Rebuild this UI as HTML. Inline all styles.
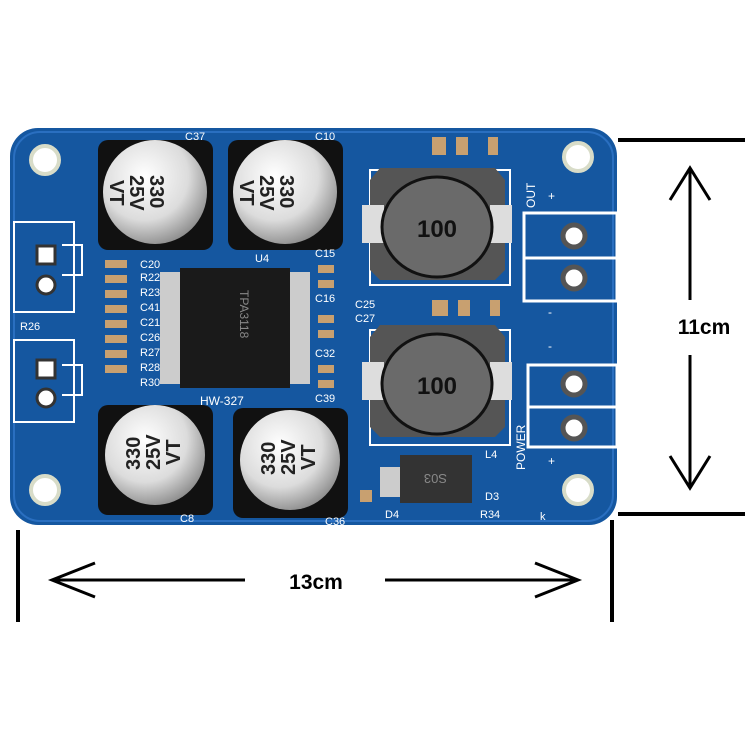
<!DOCTYPE html>
<html><head><style>
body{margin:0;background:#fff;width:750px;height:750px;overflow:hidden}
svg{display:block}
text{font-family:"Liberation Sans",sans-serif}
</style></head><body>
<svg width="750" height="750" viewBox="0 0 750 750">
<defs>
<radialGradient id="cap" cx="0.4" cy="0.35" r="0.7">
<stop offset="0" stop-color="#ffffff"/><stop offset="0.6" stop-color="#dcdcdc"/><stop offset="1" stop-color="#888"/>
</radialGradient>
</defs>
<!-- board -->
<rect x="10" y="128" width="607" height="397" rx="28" fill="#1557a0"/>
<rect x="14" y="132" width="599" height="389" rx="26" fill="none" stroke="#2a6fc0" stroke-width="2"/>
<!-- mounting holes -->
<g fill="#fff" stroke="#d8dcc8" stroke-width="4">
<circle cx="45" cy="160" r="14"/><circle cx="578" cy="157" r="14"/>
<circle cx="45" cy="490" r="14"/><circle cx="578" cy="490" r="14"/>
</g>
<!-- left connectors -->
<g fill="none" stroke="#fff" stroke-width="2">
<rect x="14" y="222" width="60" height="90"/><rect x="14" y="340" width="60" height="82"/>
<path d="M62 245 h20 v30 h-20"/><path d="M62 365 h20 v30 h-20"/>
</g>
<g fill="#fff" stroke="#333" stroke-width="3">
<rect x="37" y="246" width="18" height="18"/><circle cx="46" cy="285" r="9"/>
<rect x="37" y="360" width="18" height="18"/><circle cx="46" cy="398" r="9"/>
</g>
<!-- capacitors top -->
<g>
<rect x="98" y="140" width="115" height="110" rx="10" fill="#111"/>
<circle cx="155" cy="192" r="52" fill="url(#cap)"/>
<rect x="228" y="140" width="115" height="110" rx="10" fill="#111"/>
<circle cx="285" cy="192" r="52" fill="url(#cap)"/>
<rect x="98" y="405" width="115" height="110" rx="10" fill="#111"/>
<circle cx="155" cy="455" r="50" fill="url(#cap)"/>
<rect x="233" y="408" width="115" height="110" rx="10" fill="#111"/>
<circle cx="290" cy="460" r="50" fill="url(#cap)"/>
</g>
<g font-size="20" fill="#222" font-weight="bold">
<text x="150" y="175" transform="rotate(90 150 175)">330</text>
<text x="130" y="175" transform="rotate(90 130 175)">25V</text>
<text x="110" y="180" transform="rotate(90 110 180)">VT</text>
<text x="280" y="175" transform="rotate(90 280 175)">330</text>
<text x="260" y="175" transform="rotate(90 260 175)">25V</text>
<text x="240" y="180" transform="rotate(90 240 180)">VT</text>
<text x="140" y="470" transform="rotate(-90 140 470)">330</text>
<text x="160" y="470" transform="rotate(-90 160 470)">25V</text>
<text x="180" y="465" transform="rotate(-90 180 465)">VT</text>
<text x="275" y="475" transform="rotate(-90 275 475)">330</text>
<text x="295" y="475" transform="rotate(-90 295 475)">25V</text>
<text x="315" y="470" transform="rotate(-90 315 470)">VT</text>
</g>
<!-- chip -->
<g fill="#ccc">
<rect x="160" y="272" width="150" height="112"/>
</g>
<rect x="180" y="268" width="110" height="120" fill="#1a1a1a"/>
<text x="240" y="290" fill="#888" font-size="12" transform="rotate(90 240 290)">TPA3118</text>
<text x="255" y="262" fill="#fff" font-size="11">U4</text>
<text x="200" y="405" fill="#fff" font-size="12">HW-327</text>
<!-- small labels left -->
<g fill="#fff" font-size="11">
<text x="140" y="268">C20</text><text x="140" y="281">R22</text><text x="140" y="296">R23</text>
<text x="140" y="311">C41</text><text x="140" y="326">C21</text><text x="140" y="341">C26</text>
<text x="140" y="356">R27</text><text x="140" y="371">R28</text><text x="140" y="386">R30</text>
<text x="20" y="330">R26</text>
<text x="185" y="140">C37</text><text x="315" y="140">C10</text>
<text x="315" y="257">C15</text><text x="315" y="302">C16</text>
<text x="315" y="357">C32</text><text x="315" y="402">C39</text>
<text x="355" y="308">C25</text><text x="355" y="322">C27</text>
<text x="180" y="522">C8</text><text x="325" y="525">C36</text>
<text x="385" y="518">D4</text><text x="480" y="518">R34</text><text x="540" y="520">k</text>
<text x="485" y="500">D3</text><text x="485" y="458">L4</text>
</g>
<g fill="#c8a070">
<rect x="105" y="260" width="22" height="8"/><rect x="105" y="275" width="22" height="8"/>
<rect x="105" y="290" width="22" height="8"/><rect x="105" y="305" width="22" height="8"/>
<rect x="105" y="320" width="22" height="8"/><rect x="105" y="335" width="22" height="8"/>
<rect x="105" y="350" width="22" height="8"/><rect x="105" y="365" width="22" height="8"/>
<rect x="318" y="265" width="16" height="8"/><rect x="318" y="280" width="16" height="8"/>
<rect x="318" y="315" width="16" height="8"/><rect x="318" y="330" width="16" height="8"/>
<rect x="318" y="365" width="16" height="8"/><rect x="318" y="380" width="16" height="8"/>
<rect x="432" y="137" width="14" height="18"/><rect x="456" y="137" width="12" height="18"/>
<rect x="488" y="137" width="10" height="18"/><rect x="432" y="300" width="16" height="16"/>
<rect x="458" y="300" width="12" height="16"/><rect x="490" y="300" width="10" height="16"/>
<rect x="360" y="490" width="12" height="12"/>
</g>
<!-- inductors -->
<g fill="none" stroke="#fff" stroke-width="2">
<rect x="370" y="170" width="140" height="115"/><rect x="370" y="330" width="140" height="115"/>
</g>
<g>
<polygon points="380,168 495,168 505,180 505,270 495,280 380,280 370,270 370,180" fill="#555"/>
<rect x="362" y="205" width="22" height="38" fill="#ddd"/><rect x="490" y="205" width="22" height="38" fill="#ddd"/>
<ellipse cx="437" cy="227" rx="55" ry="50" fill="#6a6a6a" stroke="#111" stroke-width="3"/>
<text x="437" y="237" font-size="24" text-anchor="middle" font-weight="bold" fill="#111">100</text>
<polygon points="380,325 495,325 505,337 505,427 495,437 380,437 370,427 370,337" fill="#555"/>
<rect x="362" y="362" width="22" height="38" fill="#ddd"/><rect x="490" y="362" width="22" height="38" fill="#ddd"/>
<ellipse cx="437" cy="384" rx="55" ry="50" fill="#6a6a6a" stroke="#111" stroke-width="3"/>
<text x="437" y="394" font-size="24" text-anchor="middle" font-weight="bold" fill="#111">100</text>
</g>
<!-- diode -->
<rect x="380" y="467" width="90" height="30" fill="#ccc"/>
<rect x="400" y="455" width="72" height="48" fill="#333"/>
<text x="447" y="486" font-size="13" fill="#888" transform="rotate(180 447 480)">S03</text>
<!-- terminal blocks -->
<g fill="none" stroke="#fff" stroke-width="3">
<rect x="524" y="213" width="93" height="45"/><rect x="524" y="258" width="93" height="43"/>
<rect x="528" y="365" width="89" height="42"/><rect x="528" y="407" width="89" height="40"/>
</g>
<g fill="#fff" stroke="#555" stroke-width="5">
<circle cx="574" cy="236" r="11"/><circle cx="574" cy="278" r="11"/>
<circle cx="574" cy="384" r="11"/><circle cx="574" cy="428" r="11"/>
</g>
<g fill="#fff" font-size="12">
<text x="535" y="208" transform="rotate(-90 535 208)">OUT</text>
<text x="548" y="200">+</text><text x="548" y="316">-</text>
<text x="548" y="350">-</text><text x="548" y="465">+</text>
<text x="525" y="470" transform="rotate(-90 525 470)">POWER</text>
</g>
<!-- dimension lines -->
<g stroke="#000" stroke-width="4" fill="none">
<line x1="618" y1="140" x2="745" y2="140"/>
<line x1="618" y1="514" x2="745" y2="514"/>
<line x1="18" y1="530" x2="18" y2="622"/>
<line x1="612" y1="520" x2="612" y2="622"/>
</g>
<g stroke="#000" stroke-width="3" fill="none">
<line x1="690" y1="168" x2="690" y2="300"/>
<line x1="690" y1="355" x2="690" y2="488"/>
<polyline points="670,200 690,168 710,200"/>
<polyline points="670,456 690,488 710,456"/>
<line x1="52" y1="580" x2="245" y2="580"/>
<line x1="385" y1="580" x2="578" y2="580"/>
<polyline points="95,563 52,580 95,597"/>
<polyline points="535,563 578,580 535,597"/>
</g>
<text x="704" y="334" font-size="21" font-weight="bold" text-anchor="middle">11cm</text>
<text x="316" y="589" font-size="21" font-weight="bold" text-anchor="middle">13cm</text>
</svg>
</body></html>
